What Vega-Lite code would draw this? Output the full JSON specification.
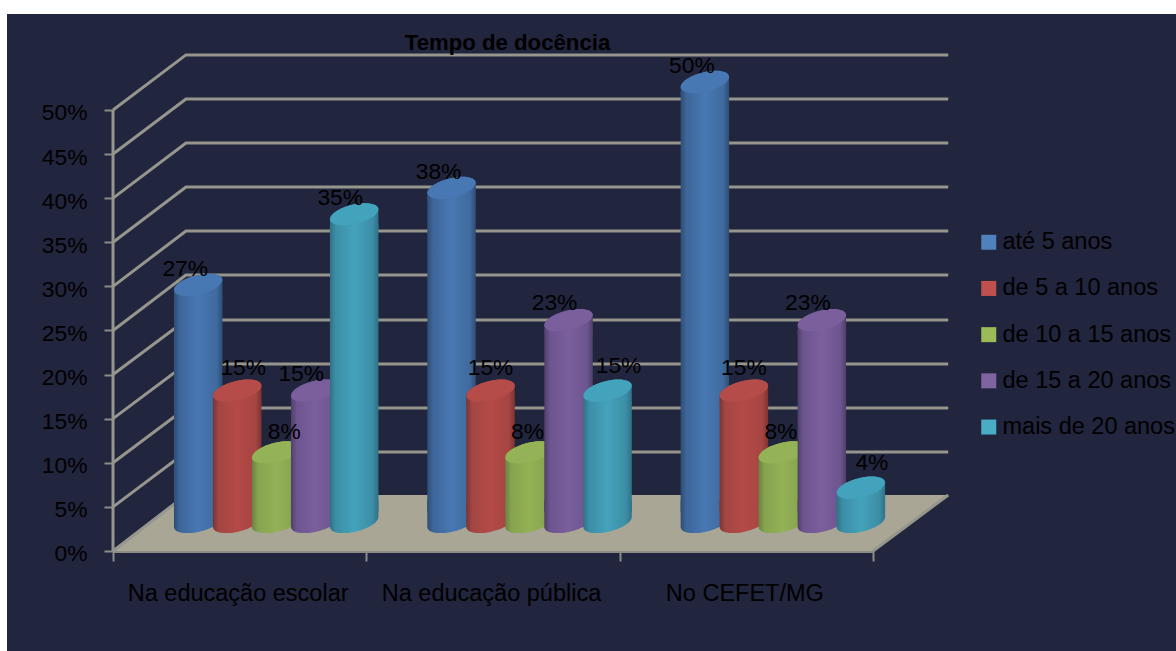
{
  "$schema": "https://vega.github.io/schema/vega-lite/v6.json",
  "width": 1169,
  "height": 637,
  "padding": {"left": 7, "top": 14, "right": 0, "bottom": 0},
  "autosize": "none",
  "background": "#ffffff",
  "view": {"fill": "#21253d", "stroke": null},
  "title": {"text": "Tempo de docência", "font": "Liberation Sans", "fontSize": 22.2, "fontWeight": "bold", "color": "#000000", "anchor": "middle", "dx": -84, "offset": -63, "baseline": "bottom"},
  "encoding": {
    "y": {
      "field": "share",
      "type": "quantitative",
      "scale": {"domain": [-0.1134, 0.6088], "nice": false, "zero": false},
      "axis": {"values": [0, 0.05, 0.1, 0.15, 0.2, 0.25, 0.3, 0.35, 0.4, 0.45, 0.5], "format": ".0%", "title": null, "offset": -106, "grid": false, "domain": false, "tickColor": "#8c8c86", "tickWidth": 2, "tickSize": 9, "labelPadding": 17, "labelOffset": 3, "labelColor": "#000000", "labelFont": "Liberation Sans", "labelFontSize": 22.8, "labelBaseline": "middle"}
    }
  },
  "layer": [
    {
      "data": {"name": "frame", "values": [
        {"edge": "floor", "u": 0, "share": 0, "top": 0},
        {"edge": "floor", "u": 9.6, "share": 0, "top": 0.0635},
        {"edge": "floor", "u": 100, "share": 0, "top": 0.0635},
        {"edge": "floor", "u": 109.9, "share": 0.0635, "top": 0.0635}
      ]},
      "layer": [
        {
          "mark": {"type": "area", "fill": "#a9a696", "opacity": 1},
          "encoding": {
            "x": {"field": "u", "type": "quantitative", "scale": {"domain": [-13.95, 139.87], "nice": false, "zero": false}, "axis": null},
            "y2": {"field": "top"}
          }
        },
        {
          "data": {"name": "walls", "values": [
            {"edge": "front", "u": 0, "share": 0},
            {"edge": "front", "u": 0, "share": 0.5},
            {"edge": "right", "u": 100, "share": 0},
            {"edge": "right", "u": 109.9, "share": 0.0635},
            {"edge": "g0", "u": 0, "share": 0},
            {"edge": "g0", "u": 9.6, "share": 0.0635},
            {"edge": "g5", "u": 0, "share": 0.05},
            {"edge": "g5", "u": 9.6, "share": 0.1122},
            {"edge": "g5", "u": 109.9, "share": 0.1122},
            {"edge": "g10", "u": 0, "share": 0.1},
            {"edge": "g10", "u": 9.6, "share": 0.1621},
            {"edge": "g10", "u": 109.9, "share": 0.1621},
            {"edge": "g15", "u": 0, "share": 0.15},
            {"edge": "g15", "u": 9.6, "share": 0.212},
            {"edge": "g15", "u": 109.9, "share": 0.212},
            {"edge": "g20", "u": 0, "share": 0.2},
            {"edge": "g20", "u": 9.6, "share": 0.2619},
            {"edge": "g20", "u": 109.9, "share": 0.2619},
            {"edge": "g25", "u": 0, "share": 0.25},
            {"edge": "g25", "u": 9.6, "share": 0.3129},
            {"edge": "g25", "u": 109.9, "share": 0.3129},
            {"edge": "g30", "u": 0, "share": 0.3},
            {"edge": "g30", "u": 9.6, "share": 0.3628},
            {"edge": "g30", "u": 109.9, "share": 0.3628},
            {"edge": "g35", "u": 0, "share": 0.35},
            {"edge": "g35", "u": 9.6, "share": 0.4127},
            {"edge": "g35", "u": 109.9, "share": 0.4127},
            {"edge": "g40", "u": 0, "share": 0.4},
            {"edge": "g40", "u": 9.6, "share": 0.4626},
            {"edge": "g40", "u": 109.9, "share": 0.4626},
            {"edge": "g45", "u": 0, "share": 0.45},
            {"edge": "g45", "u": 9.6, "share": 0.5125},
            {"edge": "g45", "u": 109.9, "share": 0.5125},
            {"edge": "g50", "u": 0, "share": 0.5},
            {"edge": "g50", "u": 9.6, "share": 0.5624},
            {"edge": "g50", "u": 109.9, "share": 0.5624}
          ]},
          "mark": {"type": "line", "stroke": "#96968e", "strokeWidth": 3, "interpolate": "linear"},
          "encoding": {
            "x": {"field": "u", "type": "quantitative", "sort": null},
            "detail": {"field": "edge"}
          }
        }
      ]
    },
    {
      "data": {"name": "cylinders", "values": [
        {"setting": "Na educação escolar", "tenure": "até 5 anos", "share": 0.27},
        {"setting": "Na educação escolar", "tenure": "de 5 a 10 anos", "share": 0.15},
        {"setting": "Na educação escolar", "tenure": "de 10 a 15 anos", "share": 0.08},
        {"setting": "Na educação escolar", "tenure": "de 15 a 20 anos", "share": 0.15},
        {"setting": "Na educação escolar", "tenure": "mais de 20 anos", "share": 0.35},
        {"setting": "Na educação pública", "tenure": "até 5 anos", "share": 0.38},
        {"setting": "Na educação pública", "tenure": "de 5 a 10 anos", "share": 0.15},
        {"setting": "Na educação pública", "tenure": "de 10 a 15 anos", "share": 0.08},
        {"setting": "Na educação pública", "tenure": "de 15 a 20 anos", "share": 0.23},
        {"setting": "Na educação pública", "tenure": "mais de 20 anos", "share": 0.15},
        {"setting": "No CEFET/MG", "tenure": "até 5 anos", "share": 0.5},
        {"setting": "No CEFET/MG", "tenure": "de 5 a 10 anos", "share": 0.15},
        {"setting": "No CEFET/MG", "tenure": "de 10 a 15 anos", "share": 0.08},
        {"setting": "No CEFET/MG", "tenure": "de 15 a 20 anos", "share": 0.23},
        {"setting": "No CEFET/MG", "tenure": "mais de 20 anos", "share": 0.04}
      ]},
      "encoding": {
        "x": {
          "field": "setting",
          "type": "nominal",
          "scale": {"domain": ["Na educação escolar", "Na educação pública", "No CEFET/MG"], "range": [106, 866], "paddingInner": 0, "paddingOuter": 0},
          "axis": {"title": null, "offset": -100, "orient": "bottom", "labelAngle": 0, "tickBand": "extent", "domainColor": "#8c8c86", "domainWidth": 3, "tickColor": "#8c8c86", "tickWidth": 2, "tickSize": 10, "labelPadding": 20, "labelOffset": -2, "labelColor": "#000000", "labelFont": "Liberation Sans", "labelFontSize": 23.5, "labelLimit": 300}
        },
        "xOffset": {
          "field": "tenure",
          "type": "nominal",
          "scale": {"domain": ["até 5 anos", "de 5 a 10 anos", "de 10 a 15 anos", "de 15 a 20 anos", "mais de 20 anos"], "range": [65.7, 260.7], "paddingInner": 0, "paddingOuter": 0}
        }
      },
      "layer": [
        {
          "mark": {"type": "point", "filled": true, "size": 0, "opacity": 1, "shape": "square"},
          "encoding": {
            "color": {
              "field": "tenure",
              "type": "nominal",
              "scale": {"domain": ["até 5 anos", "de 5 a 10 anos", "de 10 a 15 anos", "de 15 a 20 anos", "mais de 20 anos"], "range": ["#4f81bd", "#c0504d", "#9bbb59", "#8064a2", "#4bacc6"]},
              "legend": {"title": null, "orient": "none", "legendX": 970, "legendY": 216.5, "symbolType": "square", "symbolSize": 225, "symbolStrokeWidth": 0, "symbolOpacity": 1, "labelFont": "Liberation Sans", "labelFontSize": 23.5, "labelColor": "#000000", "labelOffset": 2, "labelLimit": 300, "rowPadding": 21.2, "padding": 0}
            }
          }
        },
        {
          "transform": [{"filter": "datum.tenure === 'até 5 anos'"}],
          "layer": [
            {"mark": {"type": "point", "filled": true, "opacity": 1, "size": 2352, "shape": "M-1,-0.9L-1,0.208A1.025,0.399,-13.9,0,0,1,-0.208L1,-0.9Z", "yOffset": -29, "fill": {"x1": 0, "x2": 1, "y1": 0, "y2": 0, "gradient": "linear", "stops": [{"offset": 0, "color": "#2f4d75"}, {"offset": 0.12, "color": "#3d6699"}, {"offset": 0.5, "color": "#4878b3"}, {"offset": 0.88, "color": "#3f6a9e"}, {"offset": 1, "color": "#2f4d75"}]}},
             "encoding": {"y": {"datum": 0, "type": "quantitative"}}},
            {"mark": {"type": "bar", "width": 48.5, "yOffset": -18, "y2Offset": -39, "fill": {"x1": 0, "x2": 1, "y1": 0, "y2": 0, "gradient": "linear", "stops": [{"offset": 0, "color": "#2f4d75"}, {"offset": 0.12, "color": "#3d6699"}, {"offset": 0.5, "color": "#4878b3"}, {"offset": 0.88, "color": "#3f6a9e"}, {"offset": 1, "color": "#2f4d75"}]}},
             "encoding": {"y2": {"datum": 0}}},
            {"mark": {"type": "point", "filled": true, "opacity": 1, "size": 2352, "shape": "M-1,0.208A1.025,0.399,-13.9,0,1,1,-0.208L1,0.6L-1,0.6Z", "yOffset": -28, "fill": {"x1": 0, "x2": 1, "y1": 0, "y2": 0, "gradient": "linear", "stops": [{"offset": 0, "color": "#2f4d75"}, {"offset": 0.12, "color": "#3d6699"}, {"offset": 0.5, "color": "#4878b3"}, {"offset": 0.88, "color": "#3f6a9e"}, {"offset": 1, "color": "#2f4d75"}]}}},
            {"mark": {"type": "point", "filled": true, "opacity": 1, "size": 2352, "shape": "M-1,0.208A1.025,0.399,-13.9,0,1,1,-0.208A1.025,0.399,-13.9,0,1,-1,0.208Z", "yOffset": -28, "fill": "#4878b3"}}
          ]
        },
        {
          "transform": [{"filter": "datum.tenure === 'de 5 a 10 anos'"}],
          "layer": [
            {"mark": {"type": "point", "filled": true, "opacity": 1, "size": 2352, "shape": "M-1,-0.9L-1,0.208A1.025,0.399,-13.9,0,0,1,-0.208L1,-0.9Z", "yOffset": -29, "fill": {"x1": 0, "x2": 1, "y1": 0, "y2": 0, "gradient": "linear", "stops": [{"offset": 0, "color": "#7a3431"}, {"offset": 0.12, "color": "#a34644"}, {"offset": 0.5, "color": "#b44a47"}, {"offset": 0.88, "color": "#a54542"}, {"offset": 1, "color": "#7a3431"}]}},
             "encoding": {"y": {"datum": 0, "type": "quantitative"}}},
            {"mark": {"type": "bar", "width": 48.5, "yOffset": -18, "y2Offset": -39, "fill": {"x1": 0, "x2": 1, "y1": 0, "y2": 0, "gradient": "linear", "stops": [{"offset": 0, "color": "#7a3431"}, {"offset": 0.12, "color": "#a34644"}, {"offset": 0.5, "color": "#b44a47"}, {"offset": 0.88, "color": "#a54542"}, {"offset": 1, "color": "#7a3431"}]}},
             "encoding": {"y2": {"datum": 0}}},
            {"mark": {"type": "point", "filled": true, "opacity": 1, "size": 2352, "shape": "M-1,0.208A1.025,0.399,-13.9,0,1,1,-0.208L1,0.6L-1,0.6Z", "yOffset": -28, "fill": {"x1": 0, "x2": 1, "y1": 0, "y2": 0, "gradient": "linear", "stops": [{"offset": 0, "color": "#7a3431"}, {"offset": 0.12, "color": "#a34644"}, {"offset": 0.5, "color": "#b44a47"}, {"offset": 0.88, "color": "#a54542"}, {"offset": 1, "color": "#7a3431"}]}}},
            {"mark": {"type": "point", "filled": true, "opacity": 1, "size": 2352, "shape": "M-1,0.208A1.025,0.399,-13.9,0,1,1,-0.208A1.025,0.399,-13.9,0,1,-1,0.208Z", "yOffset": -28, "fill": "#b54c49"}}
          ]
        },
        {
          "transform": [{"filter": "datum.tenure === 'de 10 a 15 anos'"}],
          "layer": [
            {"mark": {"type": "point", "filled": true, "opacity": 1, "size": 2352, "shape": "M-1,-0.9L-1,0.208A1.025,0.399,-13.9,0,0,1,-0.208L1,-0.9Z", "yOffset": -29, "fill": {"x1": 0, "x2": 1, "y1": 0, "y2": 0, "gradient": "linear", "stops": [{"offset": 0, "color": "#6b8240"}, {"offset": 0.12, "color": "#86a34e"}, {"offset": 0.5, "color": "#93b256"}, {"offset": 0.88, "color": "#86a34e"}, {"offset": 1, "color": "#6b8240"}]}},
             "encoding": {"y": {"datum": 0, "type": "quantitative"}}},
            {"mark": {"type": "bar", "width": 48.5, "yOffset": -18, "y2Offset": -39, "fill": {"x1": 0, "x2": 1, "y1": 0, "y2": 0, "gradient": "linear", "stops": [{"offset": 0, "color": "#6b8240"}, {"offset": 0.12, "color": "#86a34e"}, {"offset": 0.5, "color": "#93b256"}, {"offset": 0.88, "color": "#86a34e"}, {"offset": 1, "color": "#6b8240"}]}},
             "encoding": {"y2": {"datum": 0}}},
            {"mark": {"type": "point", "filled": true, "opacity": 1, "size": 2352, "shape": "M-1,0.208A1.025,0.399,-13.9,0,1,1,-0.208L1,0.6L-1,0.6Z", "yOffset": -28, "fill": {"x1": 0, "x2": 1, "y1": 0, "y2": 0, "gradient": "linear", "stops": [{"offset": 0, "color": "#6b8240"}, {"offset": 0.12, "color": "#86a34e"}, {"offset": 0.5, "color": "#93b256"}, {"offset": 0.88, "color": "#86a34e"}, {"offset": 1, "color": "#6b8240"}]}}},
            {"mark": {"type": "point", "filled": true, "opacity": 1, "size": 2352, "shape": "M-1,0.208A1.025,0.399,-13.9,0,1,1,-0.208A1.025,0.399,-13.9,0,1,-1,0.208Z", "yOffset": -28, "fill": "#94b256"}}
          ]
        },
        {
          "transform": [{"filter": "datum.tenure === 'de 15 a 20 anos'"}],
          "layer": [
            {"mark": {"type": "point", "filled": true, "opacity": 1, "size": 2352, "shape": "M-1,-0.9L-1,0.208A1.025,0.399,-13.9,0,0,1,-0.208L1,-0.9Z", "yOffset": -29, "fill": {"x1": 0, "x2": 1, "y1": 0, "y2": 0, "gradient": "linear", "stops": [{"offset": 0, "color": "#4f3f68"}, {"offset": 0.12, "color": "#6d5590"}, {"offset": 0.5, "color": "#7a5f9c"}, {"offset": 0.88, "color": "#6d5590"}, {"offset": 1, "color": "#4f3f68"}]}},
             "encoding": {"y": {"datum": 0, "type": "quantitative"}}},
            {"mark": {"type": "bar", "width": 48.5, "yOffset": -18, "y2Offset": -39, "fill": {"x1": 0, "x2": 1, "y1": 0, "y2": 0, "gradient": "linear", "stops": [{"offset": 0, "color": "#4f3f68"}, {"offset": 0.12, "color": "#6d5590"}, {"offset": 0.5, "color": "#7a5f9c"}, {"offset": 0.88, "color": "#6d5590"}, {"offset": 1, "color": "#4f3f68"}]}},
             "encoding": {"y2": {"datum": 0}}},
            {"mark": {"type": "point", "filled": true, "opacity": 1, "size": 2352, "shape": "M-1,0.208A1.025,0.399,-13.9,0,1,1,-0.208L1,0.6L-1,0.6Z", "yOffset": -28, "fill": {"x1": 0, "x2": 1, "y1": 0, "y2": 0, "gradient": "linear", "stops": [{"offset": 0, "color": "#4f3f68"}, {"offset": 0.12, "color": "#6d5590"}, {"offset": 0.5, "color": "#7a5f9c"}, {"offset": 0.88, "color": "#6d5590"}, {"offset": 1, "color": "#4f3f68"}]}}},
            {"mark": {"type": "point", "filled": true, "opacity": 1, "size": 2352, "shape": "M-1,0.208A1.025,0.399,-13.9,0,1,1,-0.208A1.025,0.399,-13.9,0,1,-1,0.208Z", "yOffset": -28, "fill": "#7a5f9c"}}
          ]
        },
        {
          "transform": [{"filter": "datum.tenure === 'mais de 20 anos'"}],
          "layer": [
            {"mark": {"type": "point", "filled": true, "opacity": 1, "size": 2352, "shape": "M-1,-0.9L-1,0.208A1.025,0.399,-13.9,0,0,1,-0.208L1,-0.9Z", "yOffset": -29, "fill": {"x1": 0, "x2": 1, "y1": 0, "y2": 0, "gradient": "linear", "stops": [{"offset": 0, "color": "#2f7186"}, {"offset": 0.12, "color": "#3c8ea6"}, {"offset": 0.5, "color": "#44a2bb"}, {"offset": 0.88, "color": "#3c8ea6"}, {"offset": 1, "color": "#2f7186"}]}},
             "encoding": {"y": {"datum": 0, "type": "quantitative"}}},
            {"mark": {"type": "bar", "width": 48.5, "yOffset": -18, "y2Offset": -39, "fill": {"x1": 0, "x2": 1, "y1": 0, "y2": 0, "gradient": "linear", "stops": [{"offset": 0, "color": "#2f7186"}, {"offset": 0.12, "color": "#3c8ea6"}, {"offset": 0.5, "color": "#44a2bb"}, {"offset": 0.88, "color": "#3c8ea6"}, {"offset": 1, "color": "#2f7186"}]}},
             "encoding": {"y2": {"datum": 0}}},
            {"mark": {"type": "point", "filled": true, "opacity": 1, "size": 2352, "shape": "M-1,0.208A1.025,0.399,-13.9,0,1,1,-0.208L1,0.6L-1,0.6Z", "yOffset": -28, "fill": {"x1": 0, "x2": 1, "y1": 0, "y2": 0, "gradient": "linear", "stops": [{"offset": 0, "color": "#2f7186"}, {"offset": 0.12, "color": "#3c8ea6"}, {"offset": 0.5, "color": "#44a2bb"}, {"offset": 0.88, "color": "#3c8ea6"}, {"offset": 1, "color": "#2f7186"}]}}},
            {"mark": {"type": "point", "filled": true, "opacity": 1, "size": 2352, "shape": "M-1,0.208A1.025,0.399,-13.9,0,1,1,-0.208A1.025,0.399,-13.9,0,1,-1,0.208Z", "yOffset": -28, "fill": "#43a2bc"}}
          ]
        },
        {"transform": [{"filter": "datum.tenure === 'até 5 anos'"}],
         "mark": {"type": "text", "font": "Liberation Sans", "fontSize": 22.8, "fill": "#000000", "dx": -13, "dy": -44, "baseline": "middle"},
         "encoding": {"text": {"field": "share", "type": "quantitative", "format": ".0%"}}},
        {"transform": [{"filter": "datum.tenure === 'de 5 a 10 anos' && datum.setting === 'Na educação escolar'"}],
         "mark": {"type": "text", "font": "Liberation Sans", "fontSize": 22.8, "fill": "#000000", "dx": 6, "dy": -51, "baseline": "middle"},
         "encoding": {"text": {"field": "share", "type": "quantitative", "format": ".0%"}}},
        {"transform": [{"filter": "datum.tenure === 'de 5 a 10 anos' && datum.setting !== 'Na educação escolar'"}],
         "mark": {"type": "text", "font": "Liberation Sans", "fontSize": 22.8, "fill": "#000000", "dx": 0, "dy": -51, "baseline": "middle"},
         "encoding": {"text": {"field": "share", "type": "quantitative", "format": ".0%"}}},
        {"transform": [{"filter": "datum.tenure === 'de 10 a 15 anos' && datum.setting === 'Na educação escolar'"}],
         "mark": {"type": "text", "font": "Liberation Sans", "fontSize": 22.8, "fill": "#000000", "dx": 8, "dy": -48, "baseline": "middle"},
         "encoding": {"text": {"field": "share", "type": "quantitative", "format": ".0%"}}},
        {"transform": [{"filter": "datum.tenure === 'de 10 a 15 anos' && datum.setting !== 'Na educação escolar'"}],
         "mark": {"type": "text", "font": "Liberation Sans", "fontSize": 22.8, "fill": "#000000", "dx": -2, "dy": -48, "baseline": "middle"},
         "encoding": {"text": {"field": "share", "type": "quantitative", "format": ".0%"}}},
        {"transform": [{"filter": "datum.tenure === 'de 15 a 20 anos'"}],
         "mark": {"type": "text", "font": "Liberation Sans", "fontSize": 22.8, "fill": "#000000", "dx": -14, "dy": -45, "baseline": "middle"},
         "encoding": {"text": {"field": "share", "type": "quantitative", "format": ".0%"}}},
        {"transform": [{"filter": "datum.tenure === 'mais de 20 anos' && datum.share > 0.3"}],
         "mark": {"type": "text", "font": "Liberation Sans", "fontSize": 22.8, "fill": "#000000", "dx": -14, "dy": -44, "baseline": "middle"},
         "encoding": {"text": {"field": "share", "type": "quantitative", "format": ".0%"}}},
        {"transform": [{"filter": "datum.tenure === 'mais de 20 anos' && datum.share < 0.3"}],
         "mark": {"type": "text", "font": "Liberation Sans", "fontSize": 22.8, "fill": "#000000", "dx": 11, "dy": -53, "baseline": "middle"},
         "encoding": {"text": {"field": "share", "type": "quantitative", "format": ".0%"}}}
      ]
    }
  ],
  "resolve": {"scale": {"x": "independent"}}
}
